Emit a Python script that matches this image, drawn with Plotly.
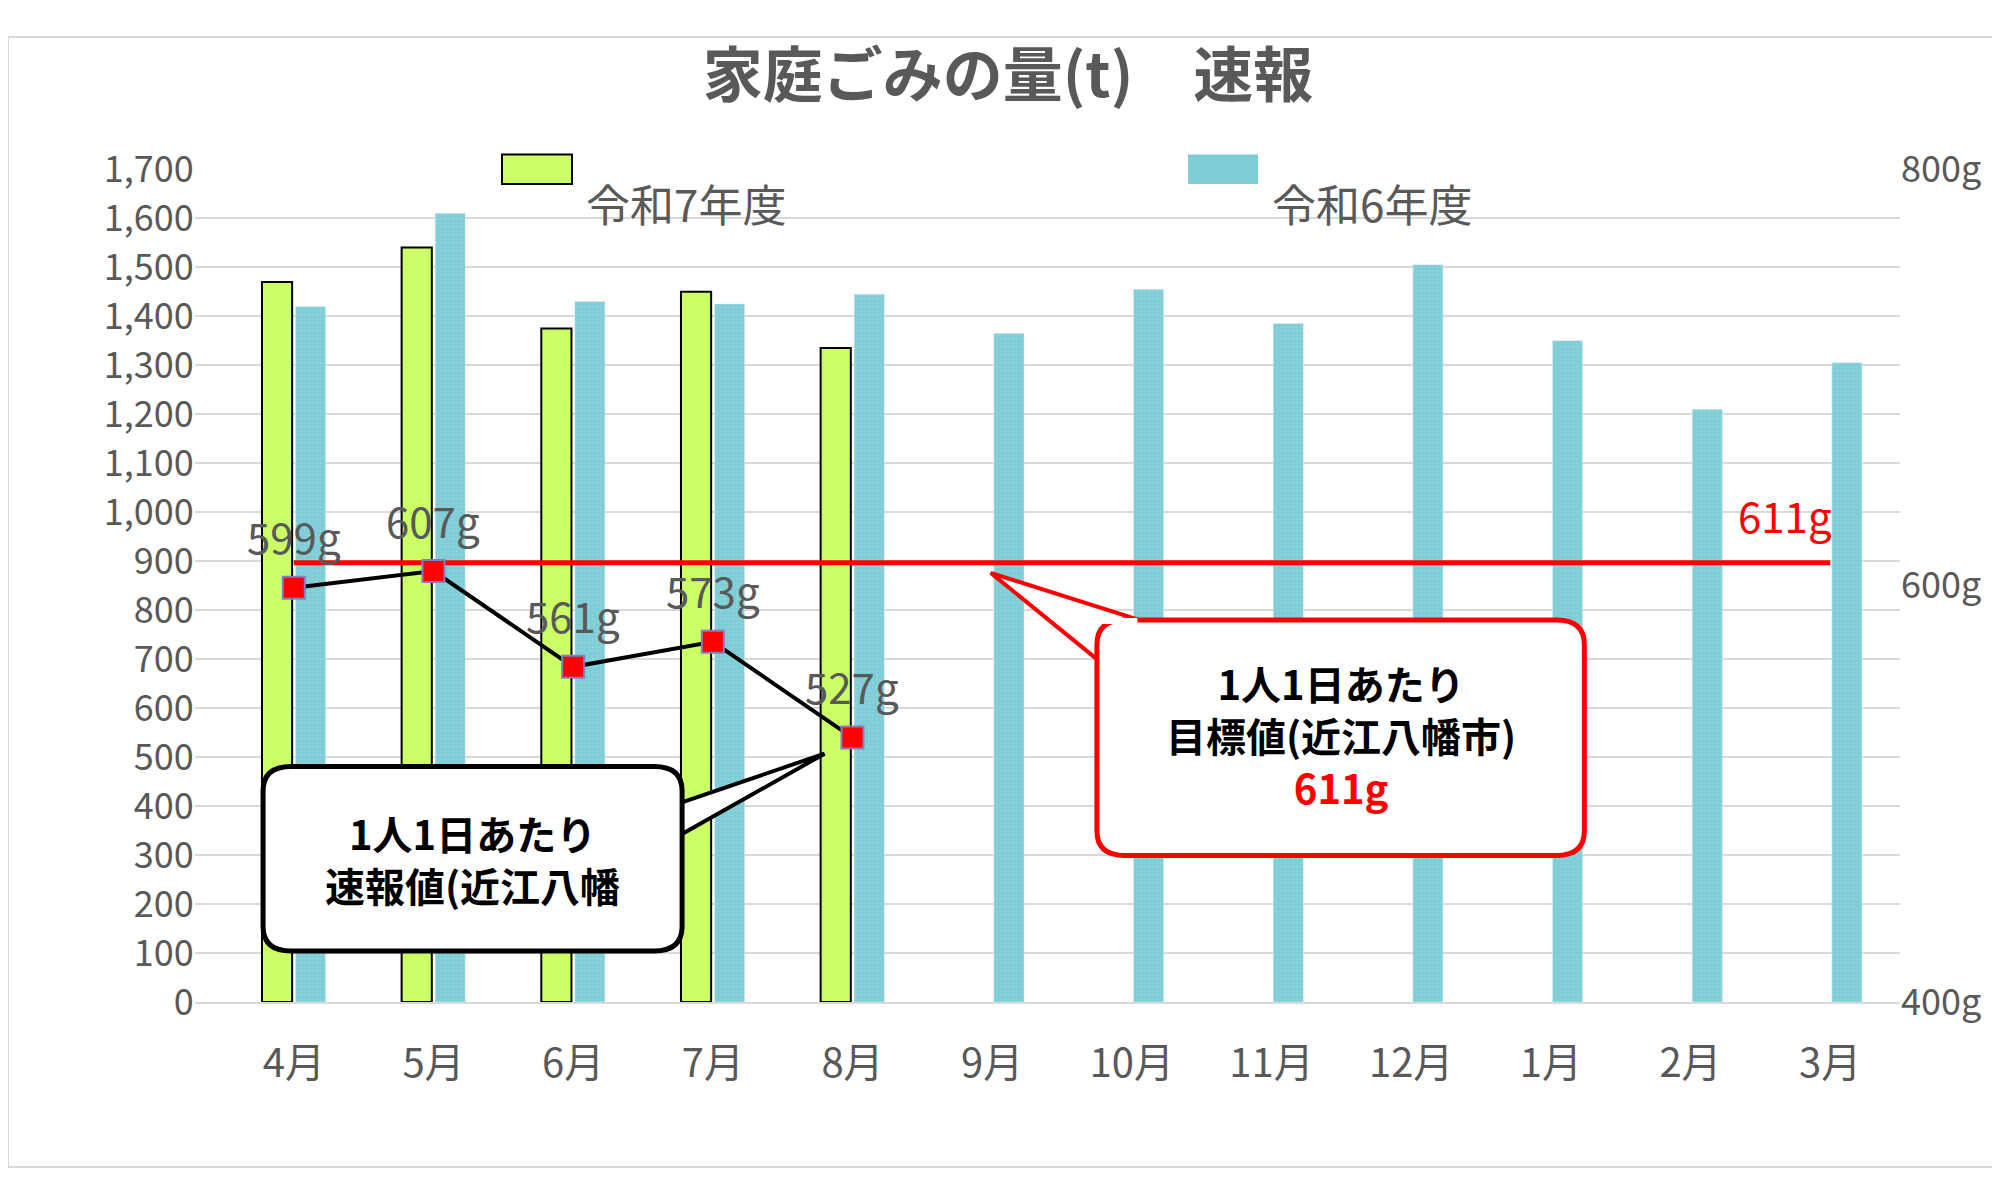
import plotly.graph_objects as go

months = ["4月", "5月", "6月", "7月", "8月", "9月", "10月", "11月", "12月", "1月", "2月", "3月"]
r7_tons = [1470, 1540, 1375, 1450, 1335]
r6_tons = [1420, 1610, 1430, 1425, 1445, 1365, 1455, 1385, 1505, 1350, 1210, 1305]
per_person = [599, 607, 561, 573, 527]
per_person_labels = ["599g", "607g", "561g", "573g", "527g"]
target = 611

gray = "#595959"
font = "Noto Sans CJK JP"
green = "#ccff66"
teal = "#7fcdd6"

fig = go.Figure()
fig.add_bar(x=months[:5], y=r7_tons, name="令和7年度", showlegend=False,
            marker=dict(color=green, line=dict(color="black", width=2)))
fig.add_bar(x=months, y=r6_tons, name="令和6年度", showlegend=False,
            marker=dict(color=teal, pattern=dict(shape=".", fgcolor="#9fdbe2", size=4, solidity=0.2)))
fig.add_scatter(x=[months[0], months[-1]], y=[target, target], yaxis="y2", mode="lines",
                line=dict(color="#ff0000", width=5), showlegend=False)
fig.add_scatter(x=months[:5], y=per_person, yaxis="y2", mode="lines+markers", showlegend=False,
                line=dict(color="black", width=4),
                marker=dict(symbol="square", size=22, color="#ff0000", line=dict(color="#8080c0", width=2)))

for m, v, t in zip(months[:5], per_person, per_person_labels):
    fig.add_annotation(x=m, y=v, yref="y2", text=t, showarrow=False, yshift=52,
                       font=dict(size=42, color=gray, family=font))
fig.add_annotation(x=months[-1], y=target, yref="y2", text="611g", showarrow=False, xshift=-45, yshift=48,
                   font=dict(size=42, color="#ff0000", family=font))

# legend drawn by hand so the swatches are large
fig.add_shape(type="rect", xref="paper", yref="paper", x0=0.247, x1=0.282, y0=0.870, y1=0.896,
              fillcolor=green, line=dict(color="black", width=2))
fig.add_annotation(xref="paper", yref="paper", x=0.288, y=0.883, text="令和7年度", showarrow=False,
                   xanchor="left", font=dict(size=44, color=gray, family=font))
fig.add_shape(type="rect", xref="paper", yref="paper", x0=0.590, x1=0.625, y0=0.870, y1=0.896,
              fillcolor=teal, line=dict(width=0))
fig.add_annotation(xref="paper", yref="paper", x=0.631, y=0.883, text="令和6年度", showarrow=False,
                   xanchor="left", font=dict(size=44, color=gray, family=font))


def rounded(x0, x1, y0, y1, rx, ry):
    return (f"M {x0+rx},{y1} L {x1-rx},{y1} Q {x1},{y1} {x1},{y1-ry} L {x1},{y0+ry} "
            f"Q {x1},{y0} {x1-rx},{y0} L {x0+rx},{y0} Q {x0},{y0} {x0},{y0+ry} "
            f"L {x0},{y1-ry} Q {x0},{y1} {x0+rx},{y1} Z")


# left callout
fig.add_shape(type="path", xref="x", yref="y", path="M 2.7,400 L 3.8,507 L 2.7,330 Z",
              fillcolor="white", line=dict(color="black", width=4))
fig.add_shape(type="path", xref="x", yref="y", path=rounded(-0.22, 2.78, 104, 481, 0.2, 50),
              fillcolor="white", line=dict(color="black", width=5))
fig.add_annotation(x=1.28, y=292, text="<b>1人1日あたり<br>速報値(近江八幡</b>", showarrow=False,
                   font=dict(size=40, color="black", family=font))
# right callout
fig.add_shape(type="path", xref="x", yref="y", path="M 5.75,700 L 4.99,876 L 6.05,780 Z",
              fillcolor="white", line=dict(color="#ff0000", width=4))
fig.add_shape(type="path", xref="x", yref="y", path=rounded(5.75, 9.24, 299, 780, 0.2, 50),
              fillcolor="white", line=dict(color="#ff0000", width=5))
fig.add_shape(type="line", xref="x", yref="y", x0=5.76, x1=6.04, y0=778, y1=778, line=dict(color="white", width=6))
fig.add_annotation(x=7.5, y=545, text="<b>1人1日あたり<br>目標値(近江八幡市)<br><span style='color:#ff0000'>611g</span></b>",
                   showarrow=False, font=dict(size=40, color="black", family=font))

fig.update_layout(
    width=2000, height=1182, paper_bgcolor="white", plot_bgcolor="white",
    margin=dict(l=0, r=0, t=0, b=0),
    title=dict(text="<b>家庭ごみの量(t)　速報</b>", x=0.5, y=0.96, xanchor="center",
               font=dict(size=60, color=gray, family=font)),
    font=dict(family=font, color=gray),
    barmode="group", bargap=0.52, bargroupgap=0.1,
    showlegend=False,
    xaxis=dict(domain=[0.0934, 0.946], tickfont=dict(size=40, color=gray), ticks="", ticklabelstandoff=25,
               showline=True, linecolor="#d9d9d9", linewidth=2),
    yaxis=dict(domain=[0.146, 0.883], range=[0, 1700], dtick=100, tickformat=",",
               tickfont=dict(size=36, color=gray), gridcolor="#d9d9d9", gridwidth=2, zeroline=False),
    yaxis2=dict(overlaying="y", side="right", range=[400, 800], tickvals=[400, 600, 800],
                ticktext=["400g", "600g", "800g"],
                tickfont=dict(size=36, color=gray), showgrid=False, zeroline=False),
)
fig.add_shape(type="rect", xref="paper", yref="paper", x0=0, x1=1, y0=0, y1=1, line=dict(color="#d9d9d9", width=2))

fig.write_html("out.html")
